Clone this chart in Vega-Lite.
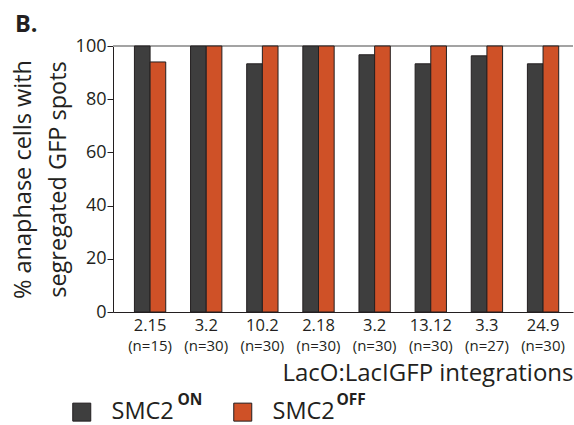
{
  "$schema": "https://vega.github.io/schema/vega-lite/v6.json",
  "autosize": {"type": "none"},
  "width": 460,
  "height": 266,
  "padding": {"left": 113, "top": 46, "right": 1, "bottom": 113},
  "config": {
    "font": "Open Sans",
    "view": {"stroke": null},
    "axis": {"labelColor": "#231f20", "titleColor": "#231f20", "domainColor": "#231f20", "tickColor": "#231f20", "grid": false, "titleFontWeight": "normal"}
  },
  "title": {"text": "B.", "anchor": "start", "frame": "group", "fontSize": 23.5, "fontWeight": "bold", "color": "#231f20", "dx": -98, "offset": 1},
  "data": {"values": [
    {"cat": "1|2.15|(n=15)", "series": "ON", "sup": "on", "pct": 100},
    {"cat": "1|2.15|(n=15)", "series": "OFF", "sup": "off", "pct": 94},
    {"cat": "2|3.2|(n=30)", "series": "ON", "sup": "on", "pct": 100},
    {"cat": "2|3.2|(n=30)", "series": "OFF", "sup": "off", "pct": 100},
    {"cat": "3|10.2|(n=30)", "series": "ON", "sup": "on", "pct": 93.3},
    {"cat": "3|10.2|(n=30)", "series": "OFF", "sup": "off", "pct": 100},
    {"cat": "4|2.18|(n=30)", "series": "ON", "sup": "on", "pct": 100},
    {"cat": "4|2.18|(n=30)", "series": "OFF", "sup": "off", "pct": 100},
    {"cat": "5|3.2|(n=30)", "series": "ON", "sup": "on", "pct": 96.7},
    {"cat": "5|3.2|(n=30)", "series": "OFF", "sup": "off", "pct": 100},
    {"cat": "6|13.12|(n=30)", "series": "ON", "sup": "on", "pct": 93.3},
    {"cat": "6|13.12|(n=30)", "series": "OFF", "sup": "off", "pct": 100},
    {"cat": "7|3.3|(n=27)", "series": "ON", "sup": "on", "pct": 96.3},
    {"cat": "7|3.3|(n=27)", "series": "OFF", "sup": "off", "pct": 100},
    {"cat": "8|24.9|(n=30)", "series": "ON", "sup": "on", "pct": 93.3},
    {"cat": "8|24.9|(n=30)", "series": "OFF", "sup": "off", "pct": 100}
  ]},
  "layer": [
    {
      "mark": {"type": "rule", "color": "#a3a3a3", "strokeWidth": 1.5},
      "encoding": {"y": {"datum": 100, "type": "quantitative"}}
    },
    {
      "mark": {"type": "bar", "stroke": "#231f20", "strokeWidth": 1},
      "encoding": {
        "x": {"field": "cat", "type": "nominal", "sort": null,
          "scale": {"paddingInner": 0.442, "paddingOuter": 0.318, "align": 0.6},
          "axis": {"orient": "bottom", "title": null, "ticks": false, "domain": true, "labelAngle": 0, "labelFontSize": 16.5, "labelPadding": 5, "labelOverlap": false, "labelBound": false, "labelExpr": "split(datum.label, '|')[1]"}},
        "xOffset": {"field": "series", "type": "nominal", "sort": ["ON", "OFF"], "scale": {"domain": ["ON", "OFF"], "paddingInner": 0}},
        "y": {"field": "pct", "type": "quantitative", "scale": {"domain": [0, 100]},
          "axis": {"title": ["% anaphase cells with", "segregated GFP spots"], "titleFontSize": 23.5, "titleLineHeight": 35, "titlePadding": 5, "values": [0, 20, 40, 60, 80, 100], "labelFontSize": 18, "labelPadding": 1, "tickSize": 6}},
        "color": {"field": "series", "type": "nominal", "scale": {"domain": ["ON", "OFF"], "range": ["#3e3e3e", "#cf5127"]},
          "legend": {"orient": "none", "legendX": -43, "legendY": 354, "direction": "horizontal", "title": null, "padding": 0, "symbolType": "square", "symbolSize": 324, "symbolStrokeColor": "#231f20", "symbolStrokeWidth": 1, "symbolOpacity": 1, "labelFontSize": 23.5, "labelColor": "#231f20", "labelOffset": 18, "columnPadding": 57, "labelExpr": "'SMC2'"}},
        "opacity": {"field": "sup", "type": "ordinal", "scale": {"domain": ["on", "off"], "range": [1, 1]},
          "legend": {"orient": "none", "legendX": 49, "legendY": 346, "direction": "horizontal", "title": null, "padding": 0, "symbolSize": 0, "symbolStrokeWidth": 0, "labelOffset": 0, "labelFontSize": 15.5, "labelFontWeight": "bold", "labelColor": "#231f20", "columnPadding": 118, "labelExpr": "upper(datum.label)"}}
      }
    },
    {
      "mark": {"type": "bar", "opacity": 0},
      "encoding": {
        "x": {"field": "cat", "type": "nominal", "sort": null,
          "axis": {"orient": "bottom", "domain": false, "ticks": false, "labelAngle": 0, "labelFontSize": 15, "labelPadding": 26, "labelOverlap": false, "labelBound": false, "labelExpr": "split(datum.label, '|')[2]",
            "title": "LacO:LacIGFP integrations", "titleFontSize": 24, "titleAnchor": "end", "titlePadding": 8}}
      }
    }
  ],
  "resolve": {"axis": {"x": "independent"}}
}
